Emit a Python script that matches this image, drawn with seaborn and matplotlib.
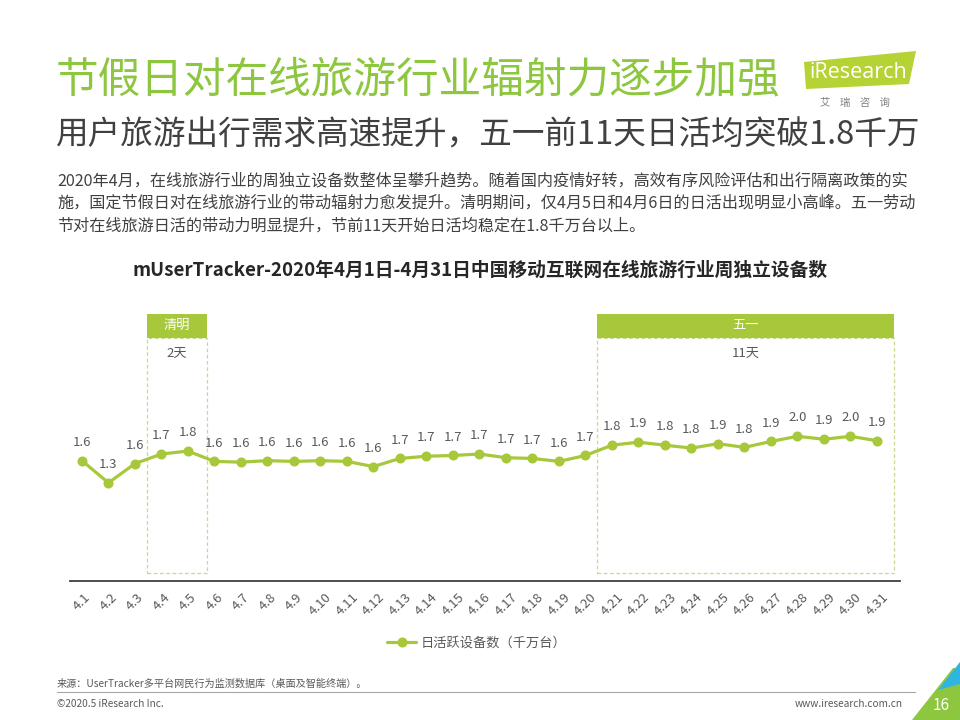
import numpy as np
import matplotlib
matplotlib.use('Agg')
import matplotlib.pyplot as plt
from matplotlib.patches import Rectangle, Polygon
from matplotlib.lines import Line2D
import seaborn as sns

# 数据
dates = ['4.%d' % d for d in range(1, 32)]
values = [1.63, 1.33, 1.59, 1.72, 1.76, 1.62, 1.61, 1.63, 1.62, 1.63, 1.62,
          1.55, 1.66, 1.69, 1.70, 1.72, 1.67, 1.66, 1.62, 1.70, 1.84, 1.88,
          1.84, 1.80, 1.86, 1.81, 1.89, 1.96, 1.92, 1.96, 1.90]
series_name = '日活跃设备数（千万台）'
holidays = [('清明', '2天', 2.45, 4.72), ('五一', '11天', 19.43, 30.64)]

title = '节假日对在线旅游行业辐射力逐步加强'
subtitle = '用户旅游出行需求高速提升，五一前11天日活均突破1.8千万'
para = ['2020年4月，在线旅游行业的周独立设备数整体呈攀升趋势。随着国内疫情好转，高效有序风险评估和出行隔离政策的实',
        '施，国定节假日对在线旅游行业的带动辐射力愈发提升。清明期间，仅4月5日和4月6日的日活出现明显小高峰。五一劳动',
        '节对在线旅游日活的带动力明显提升，节前11天开始日活均稳定在1.8千万台以上。']
chart_title = 'mUserTracker-2020年4月1日-4月31日中国移动互联网在线旅游行业周独立设备数'
source = '来源：UserTracker多平台网民行为监测数据库（桌面及智能终端）。'

GREEN = '#a8c83c'
TITLE_GREEN = '#8dc63f'
GRAY = '#595959'
DARK = '#404040'

sns.set_theme(style='white')
plt.rcParams['font.family'] = ['Noto Sans CJK SC', 'DejaVu Sans']
plt.rcParams['axes.unicode_minus'] = False

W, H = 960, 720
fig = plt.figure(figsize=(9.6, 7.2), dpi=100)

def fx(px):
    return px / W

def fy(py):
    return 1 - py / H

# 标题和说明文字
fig.text(fx(56), fy(80), title, fontsize=30.7, color=TITLE_GREEN, va='center',
         fontweight='light')
fig.text(fx(56), fy(136), subtitle, fontsize=23.5, color=DARK, va='center',
         fontweight='light')
for i, line in enumerate(para):
    fig.text(fx(57), fy(181 + i * 22.5), line, fontsize=11.6, color=DARK, va='center')
fig.text(0.5, fy(270), chart_title, fontsize=13.5, fontweight='bold', color='#262626',
         ha='center', va='center')

# 折线图
ax = fig.add_axes([fx(70), fy(581), fx(900) - fx(70), fy(313) - fy(581)])
sns.pointplot(x=dates, y=values, color=GREEN, markers='o', markersize=5.5,
              linewidth=2.3, errorbar=None, label=series_name, ax=ax)
ax.set_ylim(0, 3.63)
ax.set_xlim(-0.45, 30.87)
ax.set_yticks([])
ax.set_xlabel('')
ax.set_ylabel('')
for s in ['top', 'right', 'left']:
    ax.spines[s].set_visible(False)
ax.spines['bottom'].set_color(DARK)
ax.spines['bottom'].set_linewidth(1.3)
ax.set_xticks(range(len(dates)))
ax.set_xticklabels(dates, rotation=45, fontsize=9.5, color=GRAY)
ax.tick_params(axis='x', length=0, pad=7)

for i, v in enumerate(values):
    ax.annotate(f'{v:.1f}', (i, v), xytext=(0, 8.5), textcoords='offset points',
                ha='center', va='bottom', fontsize=9.5, color=GRAY)

# 节假日框
trans = ax.get_xaxis_transform()
for name, days, x0, x1 in holidays:
    ax.add_patch(Rectangle((x0, 0.03), x1 - x0, 0.875, fill=False, ls=(0, (3, 2)),
                           ec='#c9da8e', lw=0.9, transform=trans, clip_on=False))
    ax.add_patch(Rectangle((x0, 0.905), x1 - x0, 0.093, fc=GREEN, ec='none',
                           transform=trans, clip_on=False))
    xc = (x0 + x1) / 2
    ax.text(xc, 0.952, name, transform=trans, ha='center', va='center',
            fontsize=9.5, color='white')
    ax.text(xc, 0.85, days, transform=trans, ha='center', va='center',
            fontsize=9.5, color=GRAY)

leg = ax.legend(loc='center', bbox_to_anchor=(0.49, -0.232), frameon=False,
                fontsize=9.5, handlelength=2.2, handletextpad=0.3)
for t in leg.get_texts():
    t.set_color(GRAY)

# logo
logo = Polygon([(fx(804), fy(62)), (fx(916), fy(51)), (fx(909), fy(84)), (fx(806), fy(89))],
               closed=True, fc='#b5d334', ec='none', transform=fig.transFigure)
fig.patches.append(logo)
fig.text(fx(858), fy(72), 'iResearch', fontsize=15.5, color='white', ha='center',
         va='center', family=['Open Sans', 'DejaVu Sans'])
fig.text(fx(855), fy(103), '艾    瑞    咨    询', fontsize=7.5, color='#7f7f7f',
         ha='center', va='center')

# 页脚
fig.text(fx(57), fy(684), source, fontsize=7.3, color=GRAY, va='center')
fig.lines.append(Line2D([fx(57), fx(915)], [fy(692), fy(692)], color='#a6a6a6',
                        lw=0.8, transform=fig.transFigure))
fig.text(fx(57), fy(704), '©2020.5 iResearch Inc.', fontsize=7.3, color=GRAY, va='center')
fig.text(fx(903), fy(704), 'www.iresearch.com.cn', fontsize=7.3, color=GRAY,
         ha='right', va='center')
fig.patches.append(Polygon([(fx(912), fy(720)), (fx(953), fy(668)), (fx(960), fy(668)),
                            (fx(960), fy(720))], closed=True, fc=TITLE_GREEN, ec='none',
                           transform=fig.transFigure))
fig.patches.append(Polygon([(fx(938), fy(690)), (fx(960), fy(662)), (fx(960), fy(684))],
                           closed=True, fc='#2fb5e0', ec='none', transform=fig.transFigure))
fig.text(fx(941), fy(705), '16', fontsize=11, color='white', ha='center', va='center')

fig.savefig('out.png', dpi=100)
